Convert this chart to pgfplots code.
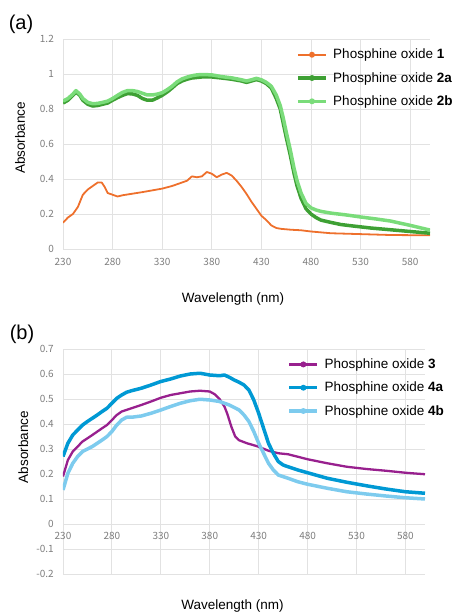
\documentclass[border=0pt]{standalone}
\usepackage{pgfplots}
\pgfplotsset{compat=1.18}
\usepackage{fontspec}
\setmainfont{Liberation Sans}
\newfontfamily\tickfont{Noto Sans CJK JP}
\definecolor{cOr}{RGB}{238,112,44}
\definecolor{cG}{RGB}{62,160,52}
\definecolor{cLG}{RGB}{122,220,122}
\definecolor{cP}{RGB}{152,32,142}
\definecolor{cB}{RGB}{0,153,212}
\definecolor{cLB}{RGB}{125,203,238}
\definecolor{gridgray}{RGB}{226,226,226}
\definecolor{tickgray}{RGB}{125,125,125}
\pgfplotsset{
  mystyle/.style={
    scale only axis,
    anchor=south west,
    xmin=230,xmax=600,
    xtick={230,280,...,580},
    grid=major,
    major grid style={draw=gridgray, line width=0.9pt},
    axis line style={draw=none},
    major tick length=0pt,
    tick label style={font=\tickfont\fontsize{10}{12}\selectfont, text=tickgray, inner sep=0pt},
    yticklabel style={xshift=-9pt},
    /pgf/number format/assume math mode=true,
    /pgf/number format/fixed,
    label style={font=\fontsize{13.5}{16}\selectfont},
    legend style={draw=none, fill=none, font=\fontsize{13.5}{16}\selectfont, legend cell align=left, anchor=north west, inner sep=0pt, row sep=9pt,
      nodes={inner sep=1.5pt}},
    legend image code/.code={\draw[##1,mark=none] (0pt,0pt) -- (28pt,0pt); \fill[##1,draw=none] (14pt,0pt) circle (3pt);},
    /tikz/every odd column/.append style={column sep=4pt},
    line join=round,
  }
}
\begin{document}
\begin{tikzpicture}[x=1pt,y=1pt]
\useasboundingbox (0,0) rectangle (457,615);
\node[font=\fontsize{20}{24}\selectfont] at (21,591) {(a)};
\node[font=\fontsize{20}{24}\selectfont] at (22,281) {(b)};
\begin{axis}[mystyle,
  at={(63pt,366pt)}, width=367pt, height=210pt,
  ymin=0, ymax=1.2, ytick={0,0.2,...,1.2},
  xticklabel style={yshift=-9pt},
  xlabel={Wavelength (nm)}, ylabel={Absorbance},
  xlabel style={at={(axis description cs:0.463,-0.238)}, anchor=center},
  ylabel style={at={(axis description cs:-0.117,0.529)}, anchor=center},
  legend style={at={(axis description cs:0.635,0.96)}},
]
\addplot[cOr, line width=1.8pt] coordinates {
(230,0.15)(235,0.18)(240,0.20)(245,0.24)(250,0.31)(255,0.34)(260,0.36)(265,0.38)(269,0.38)(272,0.355)(275,0.32)(280,0.31)(285,0.30)(290,0.307)(300,0.316)(310,0.325)(320,0.335)(330,0.345)(340,0.36)(350,0.38)(355,0.39)(360,0.415)(365,0.41)(370,0.415)(375,0.44)(380,0.43)(385,0.41)(390,0.425)(395,0.435)(400,0.42)(405,0.39)(410,0.355)(415,0.315)(420,0.27)(425,0.23)(430,0.19)(435,0.165)(440,0.135)(445,0.12)(450,0.115)(460,0.11)(470,0.107)(480,0.10)(500,0.09)(530,0.085)(560,0.08)(600,0.078)};
\addlegendentry{Phosphine oxide \textbf{1}}
\addplot[cG, line width=3.5pt] coordinates {
(230,0.834)(235,0.85)(240,0.878)(243,0.897)(247,0.878)(250,0.85)(255,0.827)(260,0.817)(265,0.82)(270,0.827)(275,0.834)(280,0.85)(285,0.865)(290,0.878)(295,0.888)(300,0.886)(305,0.878)(310,0.86)(315,0.85)(320,0.85)(325,0.863)(330,0.878)(335,0.897)(340,0.92)(345,0.945)(350,0.96)(355,0.97)(360,0.977)(365,0.98)(370,0.983)(380,0.983)(390,0.977)(400,0.97)(410,0.96)(415,0.952)(420,0.96)(425,0.968)(430,0.96)(435,0.945)(440,0.92)(445,0.86)(449,0.80)(452,0.72)(455,0.64)(459,0.54)(463,0.43)(466,0.36)(470,0.29)(475,0.23)(480,0.20)(485,0.18)(490,0.165)(500,0.152)(510,0.14)(520,0.133)(540,0.12)(560,0.11)(580,0.10)(600,0.09)};
\addlegendentry{Phosphine oxide \textbf{2a}}
\addplot[cLG, line width=3.5pt] coordinates {
(230,0.845)(235,0.86)(240,0.885)(243,0.905)(247,0.885)(250,0.86)(255,0.838)(260,0.83)(265,0.832)(270,0.838)(275,0.845)(280,0.86)(285,0.878)(290,0.895)(295,0.905)(300,0.905)(305,0.9)(310,0.89)(315,0.88)(320,0.88)(325,0.885)(330,0.893)(335,0.91)(340,0.93)(345,0.955)(350,0.972)(355,0.982)(360,0.99)(365,0.995)(370,0.997)(380,0.995)(390,0.985)(400,0.978)(410,0.967)(415,0.96)(420,0.967)(425,0.975)(430,0.967)(435,0.952)(440,0.93)(445,0.88)(449,0.82)(452,0.75)(455,0.67)(459,0.57)(463,0.46)(466,0.39)(470,0.32)(475,0.26)(480,0.235)(485,0.223)(490,0.215)(500,0.205)(515,0.195)(530,0.183)(545,0.172)(560,0.16)(580,0.135)(600,0.108)};
\addlegendentry{Phosphine oxide \textbf{2b}}
\end{axis}
\begin{axis}[mystyle,
  at={(63pt,41pt)}, width=362pt, height=225pt,
  ymin=-0.2, ymax=0.7, ytick={-0.2,-0.1,...,0.7},
  yticklabel style={/pgf/number format/precision=1},
  xticklabel style={yshift=42pt},
  xlabel={Wavelength (nm)}, ylabel={Absorbance},
  xlabel style={at={(axis description cs:0.468,-0.142)}, anchor=center},
  ylabel style={at={(axis description cs:-0.11,0.564)}, anchor=center},
  legend style={at={(axis description cs:0.62,0.964)}},
]
\addplot[cP, line width=2.3pt] coordinates {
(230,0.19)(235,0.256)(240,0.29)(245,0.31)(250,0.33)(260,0.356)(270,0.383)(275,0.396)(280,0.416)(285,0.436)(290,0.45)(300,0.463)(310,0.476)(320,0.49)(330,0.505)(340,0.516)(350,0.523)(360,0.53)(370,0.533)(380,0.53)(385,0.519)(390,0.50)(395,0.47)(398,0.44)(402,0.39)(406,0.35)(410,0.335)(418,0.323)(425,0.315)(430,0.309)(440,0.293)(450,0.283)(460,0.279)(470,0.269)(480,0.259)(500,0.243)(520,0.229)(540,0.22)(560,0.213)(580,0.205)(600,0.199)};
\addlegendentry{Phosphine oxide \textbf{3}}
\addplot[cB, line width=3.5pt] coordinates {
(230,0.27)(235,0.323)(240,0.356)(245,0.376)(250,0.396)(255,0.41)(260,0.423)(265,0.436)(270,0.45)(275,0.463)(280,0.483)(285,0.503)(290,0.516)(295,0.527)(300,0.533)(310,0.543)(320,0.556)(330,0.57)(340,0.58)(350,0.592)(360,0.60)(370,0.603)(380,0.596)(390,0.593)(395,0.596)(400,0.587)(405,0.576)(410,0.567)(415,0.556)(420,0.536)(425,0.496)(430,0.443)(435,0.383)(440,0.323)(445,0.283)(450,0.25)(455,0.236)(460,0.229)(470,0.216)(480,0.205)(500,0.183)(520,0.167)(540,0.153)(560,0.14)(580,0.129)(600,0.123)};
\addlegendentry{Phosphine oxide \textbf{4a}}
\addplot[cLB, line width=3.5pt] coordinates {
(230,0.136)(235,0.203)(240,0.243)(245,0.27)(250,0.29)(260,0.31)(270,0.336)(275,0.35)(280,0.37)(285,0.396)(290,0.416)(295,0.427)(300,0.427)(310,0.432)(320,0.443)(330,0.456)(340,0.47)(350,0.483)(360,0.493)(370,0.499)(380,0.496)(390,0.49)(400,0.476)(410,0.456)(415,0.436)(420,0.41)(425,0.37)(430,0.323)(435,0.283)(440,0.243)(445,0.216)(450,0.196)(460,0.183)(470,0.169)(480,0.159)(500,0.143)(520,0.129)(540,0.12)(560,0.112)(580,0.105)(600,0.10)};
\addlegendentry{Phosphine oxide \textbf{4b}}
\end{axis}
\end{tikzpicture}
\end{document}
